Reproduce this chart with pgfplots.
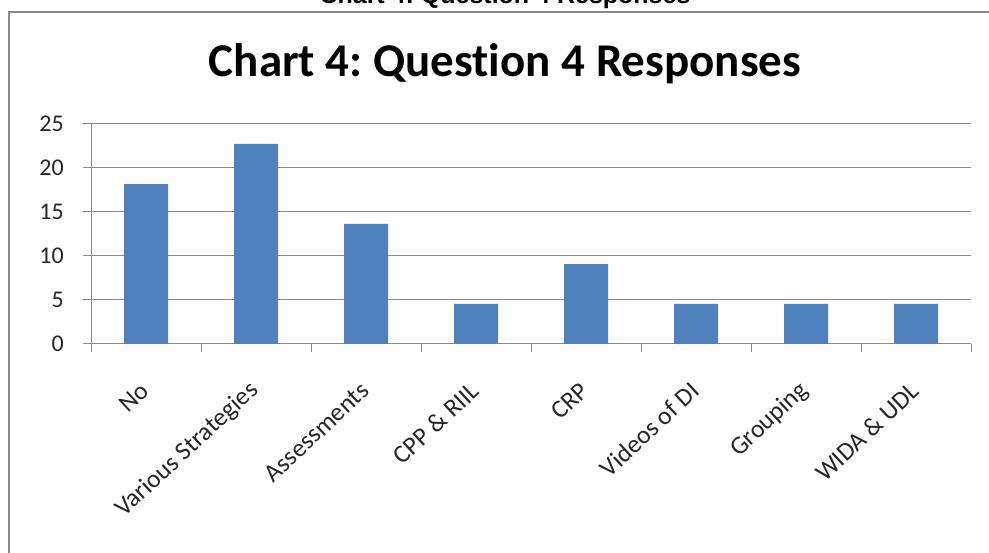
\documentclass[border=0pt]{standalone}
\usepackage{fontspec}
\setmainfont{Carlito}[Ligatures=NoCommon]
\newfontfamily\arialfont{Liberation Sans}
\usepackage{pgfplots}
\pgfplotsset{compat=1.18}
\definecolor{barblue}{HTML}{4F81BD}
\definecolor{gridgray}{HTML}{898989}
\definecolor{labelgray}{HTML}{262626}
\frenchspacing

\begin{document}
\begin{tikzpicture}[x=1pt,y=1pt]
\useasboundingbox (0,0) rectangle (989,553);
\clip (0,0) rectangle (989,553);
% running heading above the chart frame
\node[anchor=base, inner sep=0pt, font=\arialfont\bfseries\fontsize{25}{30}\selectfont]
  at (505,549) {Chart 4: Question 4 Responses};
% chart frame
\draw[gridgray, line width=1.5pt] (9,-20) -- (9,541) -- (1010,541);
% chart title
\node[anchor=base, inner sep=0pt, font=\bfseries\fontsize{47}{56}\selectfont]
  at (505,476) {Chart 4: Question 4 Responses};
\begin{axis}[
  at={(91pt,209pt)}, anchor=south west,
  scale only axis, width=880pt, height=220pt,
  xmin=-0.5, xmax=7.5, ymin=0, ymax=25,
  enlargelimits=false,
  axis x line=bottom, axis y line=left,
  x axis line style={-, gridgray, line width=1pt},
  y axis line style={-, gridgray, line width=1pt},
  tick align=outside,
  major tick length=8pt,
  tick style={gridgray, line width=1pt},
  ymajorgrids,
  grid style={gridgray, line width=1pt},
  ytick={0,5,...,25},
  xtick={-0.5,0.5,...,7.5},
  xticklabels={,,,,,,,,},
  extra x ticks={0,1,...,7},
  extra x tick labels={No, Various Strategies, Assessments, CPP \& RIIL, CRP, Videos of DI, Grouping, WIDA \& UDL},
  extra x tick style={major tick length=0pt, grid=none},
  /pgf/number format/assume math mode=true,
  ticklabel style={font=\fontsize{24}{28}\selectfont, text=labelgray},
  yticklabel style={inner sep=0pt, xshift=-19pt},
  xticklabel style={inner sep=0pt, xshift=-1pt, yshift=-43pt, rotate=43, anchor=east,
    font=\fontsize{25.5}{30}\selectfont},
]
\addplot[ybar, bar width=44pt, fill=barblue, draw=none]
  coordinates {(0,18.18) (1,22.73) (2,13.64) (3,4.55) (4,9.09) (5,4.55) (6,4.55) (7,4.55)};
\end{axis}
\end{tikzpicture}
\end{document}
